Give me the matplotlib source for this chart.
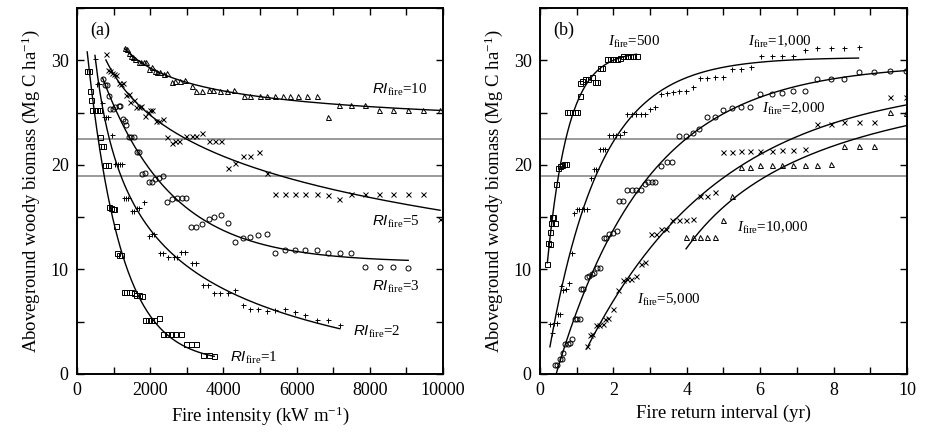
import numpy as np
import matplotlib
matplotlib.use("Agg")
import matplotlib.pyplot as plt
from matplotlib.ticker import MultipleLocator

plt.rcParams['font.family'] = ['Liberation Serif', 'DejaVu Serif']
plt.rcParams['mathtext.fontset'] = 'custom'
plt.rcParams['mathtext.rm'] = 'Liberation Serif'
plt.rcParams['mathtext.it'] = 'Liberation Serif:italic'
plt.rcParams['mathtext.sf'] = 'Liberation Sans:italic'

# ---- panel (a): biomass vs fire intensity, one series per return interval ----
ri1_x = [280, 320, 364, 382, 410, 480, 545, 610, 620, 650, 700, 774, 836, 864, 920, 980, 1020,
         1075, 1100, 1160, 1190, 1280, 1350, 1410, 1480, 1550, 1620, 1690, 1780,
         1870, 1940, 2020, 2095, 2250, 2350, 2460, 2570, 2690, 2840, 2990, 3115, 3260, 3440, 3600, 3750]
ri1_y = [29.0, 29.0, 27.1, 26.2, 25.2, 25.2, 25.2, 25.2, 22.7, 21.8, 21.8, 20.0, 20.0, 16.0, 15.9, 15.8, 15.8,
         14.2, 11.6, 11.4, 11.4, 7.8, 7.8, 7.8, 7.8, 7.7, 7.6, 7.6, 7.5,
         5.2, 5.2, 5.2, 5.2, 5.4, 3.8, 3.8, 3.8, 3.8, 3.8, 2.9, 2.9, 2.9, 1.8, 1.8, 1.7]

ri2_x = [492, 550, 600, 680, 730, 790, 850, 950, 1050, 1110, 1170, 1230, 1280, 1340, 1400,
         1500, 1560, 1630, 1700, 1840, 1960, 2050, 2110, 2260, 2350, 2480, 2640, 2720, 2840, 2960,
         3140, 3260, 3440, 3570, 3750, 3920, 4120, 4330, 4530, 4740, 4950, 5180, 5410, 5680,
         5950, 6230, 6550, 6860, 7180]
ri2_y = [30.1, 27.7, 27.7, 25.9, 24.6, 24.6, 24.6, 22.9, 20.1, 20.1, 20.1, 20.1, 16.8, 16.8, 16.8,
         15.6, 15.6, 15.9, 15.9, 16.4, 13.2, 13.4, 13.4, 11.6, 11.6, 11.2, 11.2, 11.2, 11.7, 11.7,
         10.6, 10.6, 8.5, 8.5, 7.7, 7.7, 7.7, 8.0, 6.6, 6.2, 6.2, 6.0, 6.1, 6.2,
         5.9, 5.6, 5.2, 5.2, 4.7]

ri3_x = [700, 770, 820, 865, 910, 980, 1050, 1140, 1180, 1260, 1320, 1350, 1410, 1480, 1550,
         1640, 1690, 1780, 1870, 1960, 2050, 2140, 2230, 2350, 2460, 2600, 2730, 2870, 2990,
         3120, 3260, 3420, 3600, 3750, 3930, 4120, 4330, 4530, 4730, 4950, 5180, 5410, 5680,
         5960, 6230, 6550, 6870, 7190, 7500, 7870, 8280, 8640, 9050]
ri3_y = [28.2, 27.6, 27.6, 26.6, 25.3, 25.3, 25.5, 25.6, 25.6, 24.4, 24.2, 23.8, 22.7, 22.7, 22.7,
         21.2, 21.2, 19.1, 19.2, 18.4, 18.4, 18.6, 18.7, 18.9, 16.4, 16.7, 16.8, 16.8, 16.8,
         14.1, 14.1, 14.3, 14.8, 15.0, 15.2, 14.4, 12.6, 13.0, 13.1, 13.3, 13.4, 11.6, 11.9,
         11.9, 11.9, 11.9, 11.6, 11.6, 11.6, 10.2, 10.2, 10.2, 10.1]

ri5_x = [790, 860, 910, 960, 1020, 1080, 1140, 1190, 1250, 1350, 1410, 1460, 1545, 1620, 1690, 1750,
         1870, 1930, 2000, 2050, 2170, 2230, 2350, 2460, 2600, 2690, 2780, 2990, 3140, 3260, 3420,
         3600, 3760, 3930, 4120, 4330, 4530, 4740, 4960, 5180, 5410, 5680, 5960, 6230, 6550, 6870,
         7170, 7500, 7870, 8260, 8640, 9050, 9460, 9920]
ri5_y = [30.6, 29.1, 29.0, 28.8, 28.7, 28.6, 27.8, 27.7, 27.8, 26.7, 26.8, 26.0, 26.2, 25.5, 25.5, 25.6,
         24.7, 25.1, 25.2, 25.2, 24.2, 24.2, 24.4, 22.7, 22.1, 22.3, 22.3, 22.8, 22.8, 22.8, 23.0,
         22.3, 22.3, 22.3, 19.7, 20.2, 20.8, 20.8, 21.2, 19.2, 17.2, 17.2, 17.2, 17.2, 17.2, 17.1,
         16.7, 17.2, 17.2, 17.2, 17.2, 17.2, 17.2, 14.8]

ri10_x = [1300, 1370, 1410, 1475, 1530, 1590, 1685, 1750, 1820, 1890, 1960, 2050, 2140, 2200, 2280,
          2370, 2460, 2600, 2690, 2820, 2960, 3140, 3260, 3420, 3600, 3730, 3920, 4100, 4280,
          4550, 4740, 5000, 5200, 5410, 5640, 5820, 6050, 6280, 6550, 6870, 7170, 7500, 7870,
          8260, 8640, 9050, 9460, 9920]
ri10_y = [31.2, 31.1, 30.7, 30.4, 30.3, 30.1, 29.8, 29.8, 29.8, 29.8, 29.2, 29.4, 29.0, 28.9, 28.9,
          28.7, 28.8, 27.9, 28.0, 28.0, 28.1, 27.5, 27.1, 27.1, 27.2, 27.2, 27.1, 27.1, 27.2,
          26.6, 26.6, 26.6, 26.6, 26.6, 26.6, 26.6, 26.6, 26.6, 26.6, 24.6, 25.7, 25.7, 25.7,
          25.2, 25.2, 25.2, 25.2, 25.2]

# ---- panel (b): biomass vs fire return interval, one series per intensity ----
i500_x = [0.20, 0.23, 0.26, 0.28, 0.30, 0.33, 0.36, 0.40, 0.44, 0.48, 0.54, 0.60, 0.66, 0.72,
          0.74, 0.80, 0.87, 0.94, 1.01, 1.08, 1.08, 1.15, 1.23, 1.31, 1.41, 1.50, 1.56, 1.63, 1.70,
          1.82, 1.91, 2.00, 2.09, 2.18, 2.27, 2.36, 2.45, 2.54, 2.63]
i500_y = [10.5, 12.5, 12.4, 13.6, 14.4, 15.0, 15.0, 14.4, 18.2, 19.7, 19.9, 20.0, 20.1, 20.1,
          25.1, 25.1, 25.1, 25.1, 25.1, 26.6, 27.8, 28.0, 28.2, 28.2, 28.4, 27.9, 27.9, 29.3, 29.3,
          30.1, 30.1, 30.1, 30.1, 30.2, 30.4, 30.4, 30.4, 30.4, 30.4]

i1000_x = [0.27, 0.33, 0.38, 0.45, 0.50, 0.55, 0.58, 0.64, 0.70, 0.78, 0.87, 0.93, 1.00, 1.07, 1.14,
           1.21, 1.29, 1.38, 1.46, 1.53, 1.64, 1.71, 1.78, 1.89, 1.98, 2.07, 2.18, 2.28, 2.38, 2.50,
           2.62, 2.74, 2.86, 3.00, 3.13, 3.29, 3.45, 3.62, 3.80, 3.98, 4.16, 4.36, 4.56, 4.77, 5.00,
           5.23, 5.47, 5.75, 6.02, 6.32, 6.59, 6.89, 7.23, 7.56, 7.93, 8.29, 8.68]
i1000_y = [4.8, 3.9, 4.9, 4.9, 5.7, 5.7, 8.4, 8.0, 8.1, 8.7, 11.6, 15.4, 15.8, 15.8, 15.8,
           15.8, 15.8, 18.7, 19.6, 19.6, 21.5, 21.5, 21.5, 22.9, 22.9, 22.9, 22.9, 23.1, 24.9, 24.9,
           24.9, 24.9, 24.9, 25.3, 25.5, 26.8, 26.9, 27.0, 27.1, 27.1, 27.4, 28.3, 28.3, 28.4, 28.4,
           29.2, 29.2, 29.4, 30.4, 30.4, 30.4, 30.4, 31.0, 31.2, 31.2, 31.2, 31.3]

i2000_x = [0.41, 0.47, 0.54, 0.60, 0.62, 0.68, 0.75, 0.82, 0.86, 0.95, 1.02, 1.09, 1.11, 1.18, 1.27,
           1.34, 1.41, 1.47, 1.54, 1.63, 1.74, 1.80, 1.89, 1.98, 2.09, 2.16, 2.27, 2.38, 2.50, 2.62,
           2.74, 2.86, 2.95, 3.04, 3.13, 3.29, 3.45, 3.61, 3.80, 3.98, 4.16, 4.34, 4.56, 4.77, 5.00,
           5.23, 5.47, 5.73, 6.00, 6.32, 6.59, 6.89, 7.23, 7.56, 7.93, 8.29, 8.68, 9.09, 9.55, 9.98]
i2000_y = [0.9, 0.9, 1.4, 1.4, 2.0, 2.9, 2.9, 3.0, 3.3, 5.3, 5.3, 5.3, 8.1, 8.1, 9.3,
           9.4, 9.6, 9.7, 10.1, 10.1, 13.0, 13.0, 13.4, 13.5, 13.7, 16.5, 16.5, 17.6, 17.6, 17.6,
           17.6, 18.2, 18.4, 18.4, 18.4, 19.9, 20.3, 20.3, 22.8, 22.8, 23.0, 23.4, 24.6, 24.6, 25.2,
           25.4, 25.5, 25.5, 26.8, 26.8, 26.9, 27.1, 27.1, 28.2, 28.2, 28.2, 28.9, 28.9, 29.0, 29.0]

i5000_x = [1.27, 1.36, 1.43, 1.53, 1.62, 1.71, 1.77, 1.86, 1.98, 2.13, 2.27, 2.38, 2.47, 2.62, 2.74,
           2.86, 3.02, 3.16, 3.29, 3.43, 3.61, 3.80, 3.98, 4.16, 4.35, 4.56, 4.77, 5.00, 5.23, 5.47,
           5.73, 6.00, 6.32, 6.59, 6.89, 7.23, 7.56, 7.93, 8.29, 8.68, 9.09, 9.55, 9.98]
i5000_y = [2.7, 3.7, 3.8, 4.7, 4.7, 4.8, 5.3, 5.4, 6.2, 8.0, 9.0, 9.1, 9.1, 9.4, 10.5,
           10.7, 13.4, 13.4, 13.9, 13.9, 14.7, 14.7, 14.7, 14.8, 17.0, 17.0, 17.4, 21.2, 21.2, 21.3,
           21.3, 21.3, 21.3, 21.4, 21.4, 21.5, 23.9, 23.9, 24.1, 24.1, 24.1, 26.5, 26.5]

i10000_x = [3.98, 4.16, 4.36, 4.56, 4.77, 5.00, 5.23, 5.47, 5.73, 6.00, 6.32, 6.59, 6.89, 7.23,
            7.56, 7.93, 8.29, 8.68, 9.09, 9.55, 9.98]
i10000_y = [13.1, 13.1, 13.1, 13.1, 13.1, 14.7, 17.0, 19.8, 19.8, 20.0, 20.0, 20.0, 20.0, 20.0,
            20.0, 20.1, 21.8, 21.8, 21.8, 25.1, 25.0]

ref_lines = [22.5, 18.9]


def basis(t, kind, par):
    if kind == 'exp':
        return np.exp(-par * t)
    if kind == 'pow':
        return t ** par
    return np.log(t)


def smooth_fit(x, y):
    # least-squares fit over a few simple shapes, keep the best one
    x = np.asarray(x, float)
    y = np.asarray(y, float)
    s = x.max()
    t = x / s
    xx = np.linspace(x.min(), x.max(), 200)
    tt = xx / s
    cands = [('exp', c) for c in np.linspace(0.1, 15, 150)]
    cands += [('pow', p) for p in np.linspace(-3, 3, 121) if abs(p) > 1e-6]
    cands += [('log', 0)]
    best_ssr, best_curve = None, None
    for kind, par in cands:
        A = np.column_stack([np.ones_like(t), basis(t, kind, par)])
        coef = np.linalg.lstsq(A, y, rcond=None)[0]
        ssr = ((A @ coef - y) ** 2).sum()
        if best_ssr is None or ssr < best_ssr:
            best_ssr = ssr
            best_curve = coef[0] + coef[1] * basis(tt, kind, par)
    # power law with exponential cut-off, fitted in log space
    A = np.column_stack([np.ones_like(t), np.log(t), t])
    coef = np.linalg.lstsq(A, np.log(y), rcond=None)[0]
    ssr = ((np.exp(A @ coef) - y) ** 2).sum()
    if ssr < best_ssr:
        best_curve = np.exp(coef[0] + coef[1] * np.log(tt) + coef[2] * tt)
    return xx, best_curve


fig = plt.figure(figsize=(9.25, 4.33), dpi=100)
ax1 = fig.add_axes([0.0832, 0.1363, 0.3957, 0.8452])
ax2 = fig.add_axes([0.5838, 0.1363, 0.3967, 0.8452])

mk = dict(ls='none', color='k', mfc='none', mew=0.7, ms=3.6)

series_a = [(ri1_x, ri1_y, 's'), (ri2_x, ri2_y, '+'), (ri3_x, ri3_y, 'o'),
            (ri5_x, ri5_y, 'x'), (ri10_x, ri10_y, '^')]
series_b = [(i500_x, i500_y, 's'), (i1000_x, i1000_y, '+'), (i2000_x, i2000_y, 'o'),
            (i5000_x, i5000_y, 'x'), (i10000_x, i10000_y, '^')]

for ax, series in [(ax1, series_a), (ax2, series_b)]:
    for yl in ref_lines:
        ax.axhline(yl, color='#9a9a9a', lw=1.4, zorder=1)
    for xs, ys, m in series:
        ax.plot(xs, ys, marker=m, zorder=3, **mk)
        fx, fy = smooth_fit(xs, ys)
        ax.plot(fx, fy, color='k', lw=1.0, zorder=2)
    ax.set_ylim(0, 35)
    ax.yaxis.set_major_locator(MultipleLocator(10))
    ax.yaxis.set_minor_locator(MultipleLocator(5))
    ax.tick_params(which='both', direction='in', top=True, right=True, length=5, width=1.0,
                   labelsize=13, pad=6)
    for sp in ax.spines.values():
        sp.set_linewidth(1.4)
    ax.set_ylabel('Aboveground woody biomass (Mg C ha$^{-1}$)', fontsize=13.5, labelpad=6)

ax1.set_xlim(0, 10000)
ax1.xaxis.set_major_locator(MultipleLocator(2000))
ax1.xaxis.set_minor_locator(MultipleLocator(1000))
ax1.set_xlabel('Fire intensity (kW m$^{-1}$)', fontsize=13.5)

ax2.set_xlim(0, 10)
ax2.xaxis.set_major_locator(MultipleLocator(2))
ax2.xaxis.set_minor_locator(MultipleLocator(1))
ax2.set_xlabel('Fire return interval (yr)', fontsize=13.5)

ax1.text(0.035, 0.94, '(a)', transform=ax1.transAxes, fontsize=13, va='center')
ax2.text(0.035, 0.94, '(b)', transform=ax2.transAxes, fontsize=13, va='center')

lab_a = [(8060, 27.2, '10'), (8060, 14.5, '5'), (8060, 8.3, '3'), (7540, 4.0, '2'), (4180, 1.5, '1')]
for x, y, v in lab_a:
    ax1.text(x, y, r'$\mathsf{RI}_{\mathrm{fire}}$=' + v, fontsize=10.8, va='center')

lab_b = [(1.85, 31.8, '500'), (5.67, 31.8, '1,000'), (6.05, 25.3, '2,000'),
         (5.37, 14.0, '10,000'), (2.64, 7.1, '5,000')]
for x, y, v in lab_b:
    ax2.text(x, y, r'$\mathit{I}_{\mathrm{fire}}$=' + v, fontsize=10.8, va='center')

fig.savefig('out.png', dpi=100)
